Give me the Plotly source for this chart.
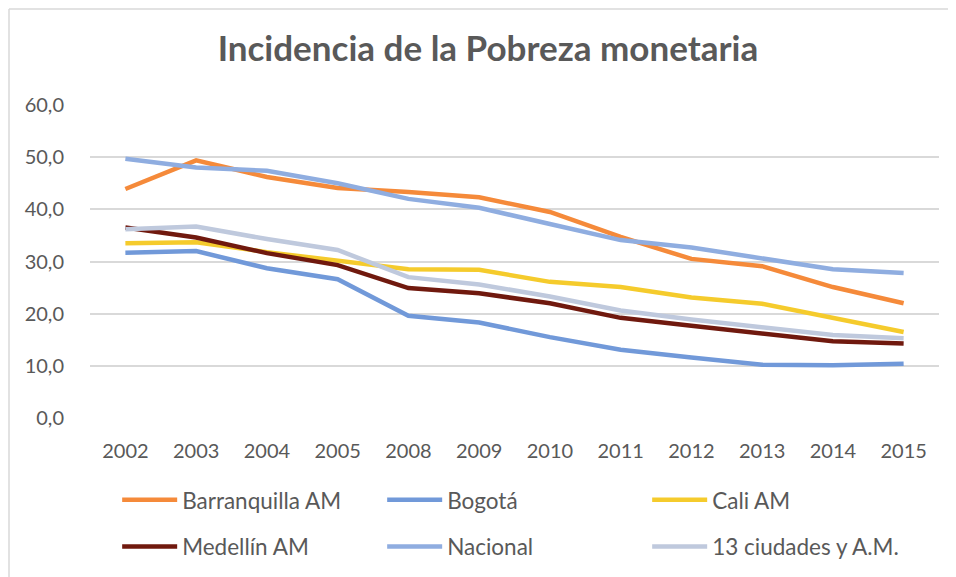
import plotly.graph_objects as go

years = ["2002", "2003", "2004", "2005", "2008", "2009", "2010", "2011", "2012", "2013", "2014", "2015"]

barranquilla = [43.9, 49.4, 46.2, 44.1, 43.3, 42.3, 39.5, 34.7, 30.5, 29.1, 25.1, 22.0]
bogota = [31.7, 32.0, 28.7, 26.6, 19.6, 18.3, 15.5, 13.1, 11.6, 10.2, 10.1, 10.4]
cali = [33.5, 33.7, 31.8, 30.2, 28.5, 28.4, 26.1, 25.1, 23.1, 21.9, 19.1, 16.5]
medellin = [36.5, 34.6, 31.6, 29.3, 24.9, 23.9, 22.0, 19.2, 17.7, 16.1, 14.7, 14.3]
nacional = [49.7, 48.0, 47.4, 45.0, 42.0, 40.3, 37.2, 34.1, 32.7, 30.6, 28.5, 27.8]
trece = [36.2, 36.7, 34.3, 32.2, 27.0, 25.6, 23.3, 20.6, 18.9, 17.5, 15.9, 15.3]

series = [
    ("Barranquilla AM", barranquilla, "#f58a3a", "legend"),
    ("Bogotá", bogota, "#7199d9", "legend"),
    ("Cali AM", cali, "#f5cb2c", "legend"),
    ("Medellín AM", medellin, "#70190e", "legend2"),
    ("Nacional", nacional, "#8fade0", "legend2"),
    ("13 ciudades y A.M.", trece, "#bfc9dd", "legend2"),
]

FONT = "Lato, 'Open Sans', sans-serif"
GREY = "#595959"

fig = go.Figure()
for name, vals, color, leg in series:
    fig.add_trace(go.Scatter(x=years, y=vals, mode="lines", name=name, legend=leg,
                             line=dict(color=color, width=4.5)))

leg_style = dict(orientation="h", xref="paper", yref="container", xanchor="left", yanchor="middle",
                 font=dict(size=22.5, color=GREY, family=FONT), itemwidth=55,
                 entrywidth=195, entrywidthmode="pixels", bgcolor="rgba(0,0,0,0)")

# page has an 8px body margin, so margins are shifted to land the plot at the reference's pixels
fig.update_layout(
    width=956, height=577,
    margin=dict(l=82, r=25, t=97, b=167, autoexpand=False),
    paper_bgcolor="white", plot_bgcolor="white",
    separators=",.",
    font=dict(family=FONT, color=GREY),
    title=dict(text="<b>Incidencia de la Pobreza monetaria</b>", x=0.502, xref="container", xanchor="center",
               y=0.929, yref="container", yanchor="middle", font=dict(size=35, color=GREY, family=FONT)),
    xaxis=dict(type="category", range=[-0.5, len(years) - 0.5], showgrid=False, showline=False, ticks="",
               ticklabelstandoff=19, tickfont=dict(size=20, color=GREY)),
    yaxis=dict(range=[0, 60], dtick=10, tickformat=".1f", showgrid=True, gridcolor="#d9d9d9", gridwidth=1.5,
               zeroline=False, showline=False, ticks="", ticklabelstandoff=25,
               tickfont=dict(size=20, color=GREY)),
    legend=dict(x=0.032, y=0.147, **leg_style),
    legend2=dict(x=0.032, y=0.066, **leg_style),
    showlegend=True,
)

# chart-area border (left and top edges visible in the picture)
fig.add_shape(type="line", xref="paper", yref="paper", x0=-0.0954, x1=-0.0954, y0=1.3067, y1=-0.7,
              line=dict(color="#d9d9d9", width=1.5))
fig.add_shape(type="line", xref="paper", yref="paper", x0=-0.0954, x1=1.1, y0=1.3067, y1=1.3067,
              line=dict(color="#d9d9d9", width=1.5))

fig.write_html("out.html")
